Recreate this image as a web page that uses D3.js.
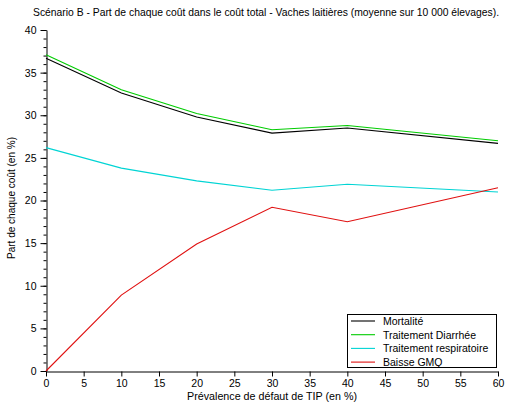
<!DOCTYPE html>
<html>
<head>
<meta charset="utf-8">
<script src="https://cdn.jsdelivr.net/npm/d3@7"></script>
<style>
  html, body { margin: 0; padding: 0; background: #fff; }
  svg { display: block; font-family: "Liberation Sans", Arial, sans-serif; }
</style>
</head>
<body>
<svg id="chart" width="509" height="405"></svg>
<script>
// Prévalence de défaut de TIP (%)
const prevalence = [0, 10, 20, 30, 40, 60];

// Part de chaque coût dans le coût total (%)
const mortalite = [36.7, 32.6, 29.8, 27.9, 28.5, 26.7];
const traitementDiarrhee = [37.1, 33.0, 30.2, 28.3, 28.8, 27.0];
const traitementRespiratoire = [26.2, 23.8, 22.3, 21.2, 21.9, 21.0];
const baisseGMQ = [0.0, 8.9, 14.9, 19.2, 17.5, 21.5];

const seriesNames = ["Mortalité", "Traitement Diarrhée", "Traitement respiratoire", "Baisse GMQ"];
const seriesColors = ["#000000", "#00cc00", "#00d4d4", "#e01010"];
const seriesValues = [mortalite, traitementDiarrhee, traitementRespiratoire, baisseGMQ];

const xTicks = d3.range(0, 61, 5);
const yTicks = d3.range(0, 41, 5);
const yMinorTicks = d3.range(0, 41, 1);

const titleText = "Scénario B - Part de chaque coût dans le coût total - Vaches laitières (moyenne sur 10 000 élevages).";
const xLabel = "Prévalence de défaut de TIP (en %)";
const yLabel = "Part de chaque coût (en %)";

const svg = d3.select("#chart");
const x = d3.scaleLinear().domain([0, 60]).range([46, 498]);
const y = d3.scaleLinear().domain([0, 40]).range([371, 30]);

// title
svg.append("text")
  .attr("x", 266).attr("y", 16)
  .attr("text-anchor", "middle")
  .attr("font-size", 10.5)
  .attr("fill", "#000")
  .attr("textLength", 466)
  .attr("lengthAdjust", "spacingAndGlyphs")
  .text(titleText);

// y axis: major and minor ticks on the outside
const yAxisG = svg.append("g").attr("transform", "translate(46.5,0)");
yAxisG.call(d3.axisLeft(y).tickValues(yMinorTicks).tickSize(3).tickFormat(""))
  .call(g => g.select(".domain").remove());
yAxisG.append("g")
  .call(d3.axisLeft(y).tickValues(yTicks).tickSize(6).tickSizeOuter(0).tickPadding(4).tickFormat(d3.format("d")));
yAxisG.selectAll("text").attr("font-size", 10.5).attr("font-family", "Liberation Sans, Arial, sans-serif").attr("fill", "#000");
yAxisG.selectAll("line, path").attr("stroke", "#000");

// x axis
const xAxisG = svg.append("g").attr("transform", "translate(0,371.5)");
xAxisG.call(d3.axisBottom(x).tickValues(xTicks).tickSize(5).tickSizeOuter(0).tickPadding(3).tickFormat(d3.format("d")));
xAxisG.selectAll("text").attr("font-size", 10.5).attr("font-family", "Liberation Sans, Arial, sans-serif").attr("fill", "#000");
xAxisG.selectAll("line, path").attr("stroke", "#000");

// axis titles
svg.append("text")
  .attr("x", 272).attr("y", 400)
  .attr("text-anchor", "middle")
  .attr("font-size", 10.5)
  .attr("textLength", 170)
  .attr("lengthAdjust", "spacingAndGlyphs")
  .text(xLabel);

svg.append("text")
  .attr("transform", "translate(15,198) rotate(-90)")
  .attr("text-anchor", "middle")
  .attr("font-size", 10.5)
  .attr("textLength", 122)
  .attr("lengthAdjust", "spacingAndGlyphs")
  .text(yLabel);

// series lines
const line = d3.line()
  .x((d, i) => x(prevalence[i]))
  .y(d => y(d));

seriesValues.forEach((vals, k) => {
  svg.append("path")
    .datum(vals)
    .attr("d", line)
    .attr("fill", "none")
    .attr("stroke", seriesColors[k])
    .attr("stroke-width", 1.1);
});

// legend
const legend = svg.append("g");
legend.append("rect")
  .attr("x", 347.5).attr("y", 314.5)
  .attr("width", 149).attr("height", 53)
  .attr("fill", "#fff").attr("stroke", "#000");

seriesNames.forEach((name, k) => {
  const cy = 321 + k * 13.7;
  legend.append("line")
    .attr("x1", 351).attr("x2", 375)
    .attr("y1", cy).attr("y2", cy)
    .attr("stroke", seriesColors[k]).attr("stroke-width", 1.1);
  legend.append("text")
    .attr("x", 383).attr("y", cy + 3.8)
    .attr("font-size", 10.5)
    .text(name);
});
</script>
</body>
</html>
